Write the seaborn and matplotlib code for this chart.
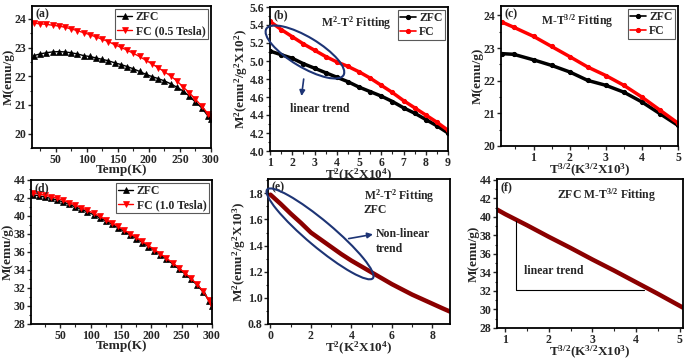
import numpy as np
import pandas as pd
import matplotlib
matplotlib.use("Agg")
import matplotlib.pyplot as plt
from matplotlib.patches import Ellipse
from matplotlib.ticker import MultipleLocator, FormatStrFormatter
import seaborn as sns

# ---- data ----
# (a) M vs T, 0.5 Tesla
temp_a = [15, 25, 35, 45, 55, 65, 75, 85, 95, 105, 115, 125, 135, 145, 155, 165, 175, 185, 195, 205,
          215, 225, 235, 245, 255, 265, 275, 285, 295, 300]
zfc_a = [22.72, 22.78, 22.82, 22.85, 22.86, 22.85, 22.82, 22.78, 22.72, 22.69, 22.64, 22.59, 22.54, 22.47,
         22.41, 22.34, 22.26, 22.17, 22.07, 21.99, 21.92, 21.84, 21.74, 21.62, 21.49, 21.31, 21.10, 20.90,
         20.62, 20.50]
fc_a = [23.85, 23.83, 23.81, 23.78, 23.75, 23.71, 23.65, 23.59, 23.52, 23.45, 23.37, 23.29, 23.21, 23.10,
        23.01, 22.91, 22.80, 22.69, 22.56, 22.43, 22.30, 22.16, 22.01, 21.84, 21.63, 21.43, 21.20, 20.96,
        20.70, 20.60]

# (b) M^2 vs T^2
t2_b = [1.0, 1.5, 2.0, 2.5, 3.0, 3.5, 4.0, 4.5, 5.0, 5.5, 6.0, 6.5, 7.0, 7.5, 8.0, 8.5, 9.0]
zfc_b = [5.11, 5.07, 5.03, 4.97, 4.92, 4.87, 4.82, 4.77, 4.71, 4.66, 4.61, 4.55, 4.48, 4.42, 4.35, 4.28, 4.20]
fc_b = [5.44, 5.35, 5.27, 5.19, 5.12, 5.05, 4.99, 4.94, 4.88, 4.81, 4.73, 4.65, 4.56, 4.48, 4.40, 4.32, 4.23]

# (c) M vs T^{3/2}
t32_c = [0.12, 0.45, 1.0, 1.5, 2.0, 2.5, 3.0, 3.5, 4.0, 4.5, 5.0]
zfc_c = [22.83, 22.81, 22.64, 22.47, 22.27, 22.01, 21.86, 21.65, 21.35, 20.99, 20.63]
fc_c = [23.80, 23.64, 23.36, 23.05, 22.74, 22.42, 22.16, 21.86, 21.50, 21.10, 20.70]

# (d) M vs T, 1.0 Tesla
temp_d = [5, 15, 25, 35, 45, 55, 65, 75, 85, 95, 105, 115, 125, 135, 145, 155, 165, 175, 185, 195,
          205, 215, 225, 235, 245, 255, 265, 275, 285, 295, 300]
zfc_d = [42.35, 42.25, 42.10, 41.95, 41.78, 41.55, 41.30, 41.00, 40.75, 40.45, 40.15, 39.80, 39.45, 39.10,
         38.70, 38.30, 37.90, 37.50, 37.05, 36.60, 36.15, 35.70, 35.20, 34.70, 34.15, 33.60, 33.00, 32.35,
         31.60, 30.60, 30.00]
fc_d = [42.55, 42.45, 42.30, 42.15, 41.97, 41.74, 41.48, 41.18, 40.92, 40.62, 40.31, 39.96, 39.61, 39.25,
        38.85, 38.45, 38.04, 37.63, 37.18, 36.73, 36.27, 35.81, 35.31, 34.80, 34.25, 33.69, 33.09, 32.43,
        31.68, 30.68, 30.05]

# (e) ZFC M^2 vs T^2, 1.0 Tesla
t2_e = [0.0, 0.5, 1.0, 1.5, 2.0, 2.5, 3.0, 3.5, 4.0, 4.5, 5.0, 5.5, 6.0, 6.5, 7.0, 7.5, 8.0, 8.5, 8.87]
zfc_e = [1.79, 1.72, 1.645, 1.575, 1.50, 1.445, 1.39, 1.335, 1.285, 1.24, 1.195, 1.15, 1.105, 1.065,
         1.025, 0.99, 0.955, 0.92, 0.895]

# (f) ZFC M vs T^{3/2}, 1.0 Tesla
t32_f = [0.81, 1.0, 1.5, 2.0, 2.5, 3.0, 3.5, 4.0, 4.5, 5.08]
zfc_f = [40.8, 40.3, 39.1, 37.85, 36.65, 35.4, 34.2, 32.95, 31.7, 30.2]

sns.set_style("ticks")
plt.rcParams['font.family'] = ['Liberation Serif', 'DejaVu Serif']
plt.rcParams['font.weight'] = 'bold'
plt.rcParams['axes.labelweight'] = 'bold'
plt.rcParams['mathtext.fontset'] = 'custom'
plt.rcParams['mathtext.rm'] = 'Liberation Serif:bold'
plt.rcParams['mathtext.it'] = 'Liberation Serif:bold'
plt.rcParams['mathtext.bf'] = 'Liberation Serif:bold'
plt.rcParams['mathtext.default'] = 'rm'

DPI = 100
fig = plt.figure(figsize=(6.85, 3.62), dpi=DPI)
W, H = 685, 362


def axes_px(left, top, right, bottom):
    return fig.add_axes([left / W, 1 - bottom / H, (right - left) / W, (bottom - top) / H])


ax_a = axes_px(32, 6, 211, 148)
ax_b = axes_px(270, 7, 448, 151)
ax_c = axes_px(501, 6, 678, 146)
ax_d = axes_px(31, 180, 212, 324)
ax_e = axes_px(268, 179, 450, 324)
ax_f = axes_px(497, 179, 683, 328)

NAVY = '#1d3475'
DRED = '#8b0000'
FS = 8.5


def style(ax, xlim, ylim, xmaj, xmin, ymaj, ymin, xlabel, ylabel, tag, yfmt=None):
    ax.set_xlim(*xlim)
    ax.set_ylim(*ylim)
    ax.xaxis.set_major_locator(MultipleLocator(xmaj))
    ax.xaxis.set_minor_locator(MultipleLocator(xmin))
    ax.yaxis.set_major_locator(MultipleLocator(ymaj))
    ax.yaxis.set_minor_locator(MultipleLocator(ymin))
    if yfmt:
        ax.yaxis.set_major_formatter(FormatStrFormatter(yfmt))
    ax.tick_params(which='major', direction='out', length=3, width=1, labelsize=8.5, pad=1)
    ax.tick_params(which='minor', direction='out', length=1.8, width=0.8)
    for s in ax.spines.values():
        s.set_visible(True)
        s.set_linewidth(1.3)
        s.set_color('black')
    ax.set_xlabel(xlabel, fontsize=9.5, labelpad=-1)
    ax.set_ylabel(ylabel, fontsize=9.5, labelpad=0)
    ax.text(0.02, 0.985, tag, transform=ax.transAxes, ha='left', va='top', fontsize=FS, fontweight='bold')


def legend(ax):
    leg = ax.legend(loc='upper right', fontsize=FS, handlelength=1.3, handletextpad=0.3,
                    borderpad=0.2, labelspacing=0.15, borderaxespad=0.25, fancybox=False,
                    framealpha=1, edgecolor='0.35')
    leg.get_frame().set_linewidth(0.8)
    return leg


def ellipse_px(ax, center, width, height, angle):
    cx, cy = ax.transData.transform(center) / DPI
    e = Ellipse((cx, cy), width / DPI, height / DPI, angle=angle, transform=fig.dpi_scale_trans,
                fill=False, edgecolor=NAVY, linewidth=1.5, zorder=5)
    fig.add_artist(e)


# (a)
sns.lineplot(x=temp_a, y=zfc_a, ax=ax_a, color='black', marker='^', markersize=4,
             markeredgecolor='black', markeredgewidth=0.5, linewidth=1, label='ZFC')
sns.lineplot(x=temp_a, y=fc_a, ax=ax_a, color='red', marker='v', markersize=4,
             markeredgecolor='red', markeredgewidth=0.5, linewidth=1, label='FC (0.5 Tesla)')
style(ax_a, (12, 300), (19.5, 24.45), 50, 25, 1, 0.5, 'Temp(K)', 'M(emu/g)', '(a)')
legend(ax_a)

# (b)
sns.lineplot(x=t2_b, y=zfc_b, ax=ax_b, color='black', marker='o', markersize=3,
             markeredgecolor='black', linewidth=2.5, label='ZFC')
sns.lineplot(x=t2_b, y=fc_b, ax=ax_b, color='red', marker='o', markersize=3,
             markeredgecolor='red', linewidth=2.5, label='FC')
style(ax_b, (1, 9), (4.0, 5.6), 1, 0.5, 0.2, 0.1, 'T$^2$(K$^2$X10$^4$)',
      'M$^2$(emu$^2$/g$^2$X10$^2$)', '(b)', '%.1f')
legend(ax_b)
for line in ax_b.get_legend().get_lines():
    line.set_linewidth(1.2)
ax_b.text(3.3, 5.42, 'M$^2$-T$^2$ Fitting', fontsize=FS, ha='left', va='center')
ax_b.text(3.25, 4.47, 'linear trend', fontsize=FS, ha='center', va='center')
ax_b.annotate('', xy=(2.4, 4.58), xytext=(2.53, 4.83),
              arrowprops=dict(arrowstyle='-|>', color=NAVY, lw=1.2, mutation_scale=8))

# (c)
sns.lineplot(x=t32_c, y=zfc_c, ax=ax_c, color='black', marker='o', markersize=3,
             markeredgecolor='black', linewidth=2.5, label='ZFC')
sns.lineplot(x=t32_c, y=fc_c, ax=ax_c, color='red', marker='o', markersize=3,
             markeredgecolor='red', linewidth=2.5, label='FC')
style(ax_c, (0.1, 5.0), (20, 24.29), 1, 0.5, 1, 0.5, 'T$^{3/2}$(K$^{3/2}$X10$^3$)', 'M(emu/g)', '(c)')
legend(ax_c)
for line in ax_c.get_legend().get_lines():
    line.set_linewidth(1.2)
ax_c.text(1.2, 23.83, 'M-T$^{3/2}$ Fitting', fontsize=FS, ha='left', va='center')

# (d)
sns.lineplot(x=temp_d, y=zfc_d, ax=ax_d, color='black', marker='^', markersize=4,
             markeredgecolor='black', markeredgewidth=0.5, linewidth=1, label='ZFC')
sns.lineplot(x=temp_d, y=fc_d, ax=ax_d, color='red', marker='v', markersize=4,
             markeredgecolor='red', markeredgewidth=0.5, linewidth=1, label='FC (1.0 Tesla)')
style(ax_d, (2, 300), (28, 44), 50, 25, 2, 1, 'Temp(K)', 'M(emu/g)', '(d)')
leg_d = legend(ax_d)
leg_d.set_bbox_to_anchor((1.0, 1.0), transform=ax_d.transAxes)

# (e)
sns.lineplot(x=t2_e, y=zfc_e, ax=ax_e, color=DRED, linewidth=3.2)
style(ax_e, (-0.12, 8.87), (0.8, 1.91), 2, 1, 0.2, 0.1, 'T$^2$(K$^2$X10$^4$)',
      'M$^2$(emu$^2$/g$^2$X10$^3$)', '(e)', '%.1f')
ax_e.text(4.6, 1.78, 'M$^2$-T$^2$ Fitting', fontsize=FS, ha='left', va='center')
ax_e.text(4.6, 1.675, 'ZFC', fontsize=FS, ha='left', va='center')
ax_e.text(5.2, 1.49, 'Non-linear', fontsize=FS, ha='left', va='center')
ax_e.text(5.2, 1.375, 'trend', fontsize=FS, ha='left', va='center')
ax_e.annotate('', xy=(5.2, 1.49), xytext=(3.73, 1.45),
              arrowprops=dict(arrowstyle='-|>', color=NAVY, lw=1.2, mutation_scale=8))

# (f)
sns.lineplot(x=t32_f, y=zfc_f, ax=ax_f, color=DRED, linewidth=3.2)
style(ax_f, (0.81, 5.08), (28, 44.1), 1, 0.5, 2, 1, 'T$^{3/2}$(K$^{3/2}$X10$^3$)', 'M(emu/g)', '(f)')
ax_f.plot([1.25, 1.25, 4.18], [39.55, 32.15, 32.15], color='black', lw=0.8)
ax_f.text(1.42, 34.2, 'linear trend', fontsize=FS, ha='left', va='center')
ax_f.text(2.19, 42.4, 'ZFC M-T$^{3/2}$ Fitting', fontsize=FS, ha='left', va='center')

# annotation ellipses (drawn in pixel space so the tilt matches)
ellipse_px(ax_b, (2.57, 5.10), 90, 30, -31)
ellipse_px(ax_e, (2.45, 1.49), 138, 26, -40)

fig.savefig('out.png', dpi=DPI)
